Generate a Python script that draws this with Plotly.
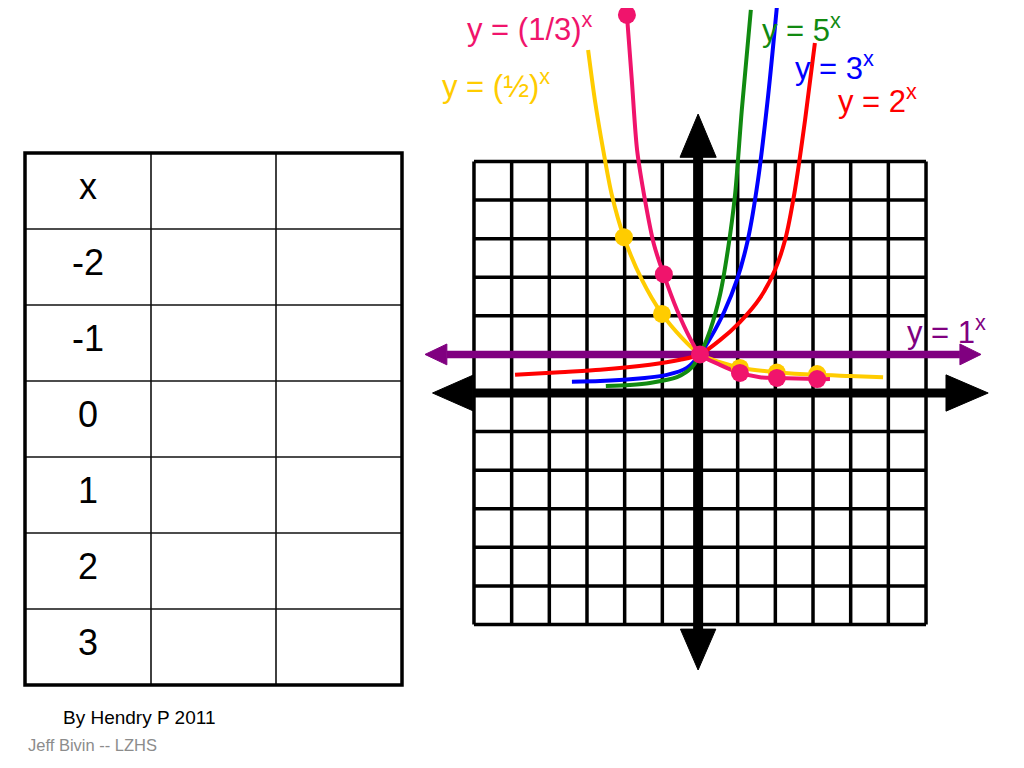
import plotly.graph_objects as go

# ---------------- data (graph units) ----------------
red_x = [-4.91, -3.72, -2.65, -1.33, -0.53, 0.0, 0.53, 1.06, 1.59, 1.99, 2.26, 2.52, 2.79, 3.05]
red_y = [0.47, 0.54, 0.60, 0.73, 0.86, 1.0, 1.37, 1.84, 2.46, 3.19, 3.97, 5.26, 7.08, 9.07]

blue_x = [-3.40, -2.65, -1.78, -0.88, -0.35, 0.0, 0.32, 0.64, 0.98, 1.27, 1.54, 1.81, 2.04]
blue_y = [0.29, 0.31, 0.36, 0.47, 0.65, 1.0, 1.50, 2.10, 2.93, 3.97, 5.52, 7.72, 10.0]

green_x = [-2.50, -1.86, -1.33, -0.61, -0.21, 0.0, 0.27, 0.53, 0.74, 0.93, 1.11, 1.35]
green_y = [0.18, 0.21, 0.26, 0.41, 0.67, 1.0, 1.63, 2.54, 3.71, 5.13, 7.34, 9.93]

yellow_x = [-2.97, -2.79, -2.57, -2.34, -2.02, -1.54, -1.01, -0.48, 0.0, 0.53, 1.11, 2.04, 3.11, 3.98, 4.86]
yellow_y = [8.89, 7.59, 6.30, 5.13, 4.04, 2.93, 2.05, 1.43, 1.0, 0.80, 0.65, 0.54, 0.47, 0.44, 0.41]

pink_x = [-1.94, -1.81, -1.67, -1.46, -1.22, -0.96, -0.61, -0.27, 0.0, 0.53, 1.06, 1.59, 2.04, 3.11, 3.45]
pink_y = [9.80, 8.11, 6.30, 5.00, 3.84, 3.06, 2.15, 1.43, 1.0, 0.73, 0.52, 0.41, 0.39, 0.36, 0.36]

yellow_dot_x = [-2.02, -1.01, 1.06, 2.04, 3.11]
yellow_dot_y = [4.04, 2.05, 0.65, 0.53, 0.49]

pink_dot_x = [-1.94, -0.96, 0.0, 1.06, 2.04, 3.11]
pink_dot_y = [9.80, 3.08, 1.0, 0.52, 0.39, 0.36]

purple_x = [-6.72, 6.90]
purple_y = [1.0, 1.0]

grid_ticks = [-6, -5, -4, -3, -2, -1, 0, 1, 2, 3, 4, 5, 6]

table_labels = ["x", "-2", "-1", "0", "1", "2", "3"]

curve_labels = ["y = (1/3)<sup>x</sup>", "y = (½)<sup>x</sup>", "y = 5<sup>x</sup>",
                "y = 3<sup>x</sup>", "y = 2<sup>x</sup>", "y = 1<sup>x</sup>"]

# ---------------- styles ----------------
FONT = "Liberation Sans, Arial, Helvetica, sans-serif"
PINK = "#F0146C"
YELLOW = "#FFCC00"
GREEN = "#118A11"
BLUE = "#0000FF"
RED = "#FF0000"
PURPLE = "#800080"

W, H = 1024, 768
OFF = 8  # page margin of the browser


def px(x):
    return (x - OFF) / W


def py(y):
    return 1 - (y - OFF) / H


fig = go.Figure()

# grid
gx, gy = [], []
for v in grid_ticks:
    gx += [v, v, None]
    gy += [grid_ticks[0], grid_ticks[-1], None]
    gx += [grid_ticks[0], grid_ticks[-1], None]
    gy += [v, v, None]
fig.add_trace(go.Scatter(x=gx, y=gy, mode="lines", line=dict(color="black", width=3.5),
                         hoverinfo="skip"))

# black axes
fig.add_trace(go.Scatter(x=[-6.03, 6.55], y=[0, 0], mode="lines",
                         line=dict(color="black", width=9), hoverinfo="skip"))
fig.add_trace(go.Scatter(x=[-0.05, -0.05], y=[-6.15, 6.12], mode="lines",
                         line=dict(color="black", width=10), hoverinfo="skip"))
# arrowheads of the black axes
for tri_x, tri_y in [
    ([-7.10, -6.03, -6.03, -7.10], [0, 0.46, -0.46, 0]),
    ([7.65, 6.53, 6.53, 7.65], [0, 0.47, -0.47, 0]),
    ([-0.05, -0.53, 0.43, -0.05], [7.23, 6.11, 6.11, 7.23]),
    ([-0.05, -0.52, 0.42, -0.05], [-7.18, -6.12, -6.12, -7.18]),
]:
    fig.add_trace(go.Scatter(x=tri_x, y=tri_y, mode="lines", fill="toself",
                             fillcolor="black", line=dict(color="black", width=1),
                             hoverinfo="skip"))

# y = 1^x (purple double arrow)
fig.add_trace(go.Scatter(x=purple_x, y=purple_y, mode="lines",
                         line=dict(color=PURPLE, width=7.5), hoverinfo="skip"))
for tri_x, tri_y in [
    ([-7.30, -6.72, -6.72, -7.30], [1.0, 1.27, 0.73, 1.0]),
    ([7.46, 6.90, 6.90, 7.46], [1.0, 1.27, 0.73, 1.0]),
]:
    fig.add_trace(go.Scatter(x=tri_x, y=tri_y, mode="lines", fill="toself",
                             fillcolor=PURPLE, line=dict(color=PURPLE, width=1),
                             hoverinfo="skip"))

# curves
for cx, cy, col in [(red_x, red_y, RED), (blue_x, blue_y, BLUE), (green_x, green_y, GREEN),
                    (yellow_x, yellow_y, YELLOW), (pink_x, pink_y, PINK)]:
    fig.add_trace(go.Scatter(x=cx, y=cy, mode="lines",
                             line=dict(color=col, width=4, shape="spline", smoothing=0.8),
                             hoverinfo="skip"))

fig.add_trace(go.Scatter(x=yellow_dot_x, y=yellow_dot_y, mode="markers",
                         marker=dict(color=YELLOW, size=18), hoverinfo="skip"))
fig.add_trace(go.Scatter(x=pink_dot_x, y=pink_dot_y, mode="markers",
                         marker=dict(color=PINK, size=18), hoverinfo="skip"))

# curve labels
label_pos = [(465, 27, PINK), (440, 84, YELLOW), (760, 28, GREEN),
             (793, 66, BLUE), (836, 99, RED), (905, 330, PURPLE)]
annotations = []
for text, (lx, ly, col) in zip(curve_labels, label_pos):
    annotations.append(dict(text=text, x=px(lx), y=py(ly), xref="paper", yref="paper",
                            xanchor="left", yanchor="middle", showarrow=False,
                            font=dict(family=FONT, size=31, color=col)))

# table
col_edges = [25, 151, 276, 402]
row_top, row_h = 153, 76
shapes = []
n_rows = len(table_labels)
for i in range(1, n_rows):
    yy = row_top + i * row_h
    shapes.append(dict(type="line", xref="paper", yref="paper",
                       x0=px(col_edges[0]), x1=px(col_edges[-1]), y0=py(yy), y1=py(yy),
                       line=dict(color="#111111", width=1.6)))
for cxe in col_edges[1:-1]:
    shapes.append(dict(type="line", xref="paper", yref="paper",
                       x0=px(cxe), x1=px(cxe), y0=py(row_top), y1=py(row_top + n_rows * row_h),
                       line=dict(color="#111111", width=1.6)))
shapes.append(dict(type="rect", xref="paper", yref="paper",
                   x0=px(col_edges[0]), x1=px(col_edges[-1]),
                   y0=py(row_top), y1=py(row_top + n_rows * row_h),
                   line=dict(color="black", width=3.5)))

for i, lab in enumerate(table_labels):
    cy = row_top + i * row_h + row_h / 2 - 5
    annotations.append(dict(text=lab, x=px((col_edges[0] + col_edges[1]) / 2), y=py(cy),
                            xref="paper", yref="paper", xanchor="center", yanchor="middle",
                            showarrow=False, font=dict(family=FONT, size=36, color="black")))

annotations.append(dict(text="By Hendry P 2011", x=px(61), y=py(717), xref="paper", yref="paper",
                        xanchor="left", yanchor="middle", showarrow=False,
                        font=dict(family=FONT, size=19, color="black")))
annotations.append(dict(text="Jeff Bivin -- LZHS", x=px(26), y=py(745), xref="paper", yref="paper",
                        xanchor="left", yanchor="middle", showarrow=False,
                        font=dict(family=FONT, size=16.5, color="#8C8C8C")))

ORIGIN_X, ORIGIN_Y = 700 - OFF, 393 - OFF  # pixel position of the graph origin in the plot
UX, UY = 37.67, 38.58  # pixels per graph unit

fig.update_layout(
    width=W, height=H,
    margin=dict(l=0, r=0, t=0, b=0),
    paper_bgcolor="white", plot_bgcolor="white",
    showlegend=False,
    xaxis=dict(range=[-ORIGIN_X / UX, (W - ORIGIN_X) / UX], visible=False, fixedrange=True),
    yaxis=dict(range=[-(H - ORIGIN_Y) / UY, ORIGIN_Y / UY], visible=False, fixedrange=True),
    shapes=shapes,
    annotations=annotations,
)

fig.write_html("out.html")
